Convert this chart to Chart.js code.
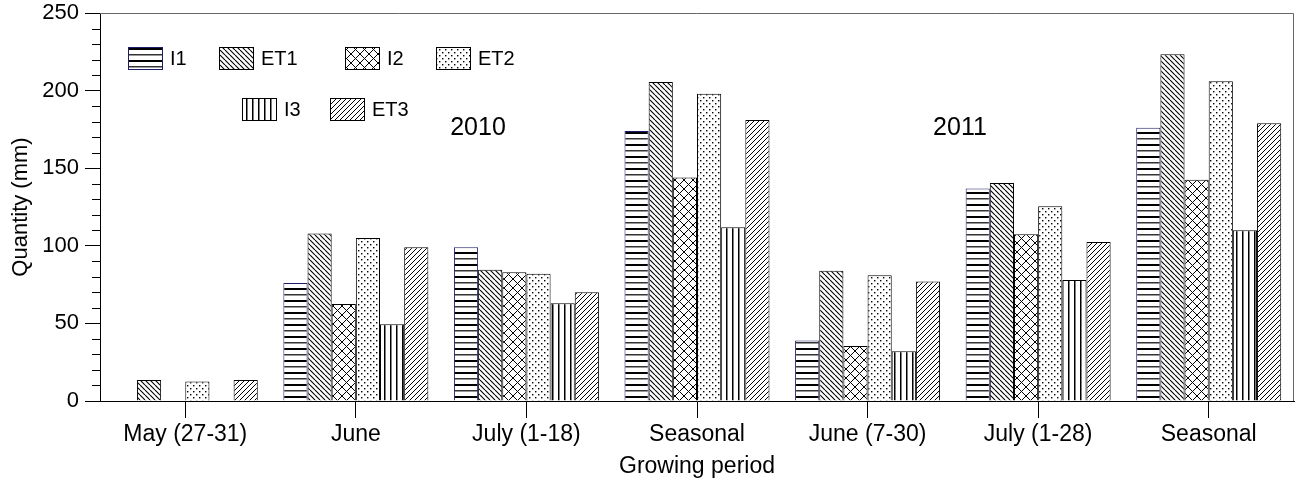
<!DOCTYPE html>
<html>
<head>
<meta charset="utf-8">
<script src="https://cdn.jsdelivr.net/npm/chart.js@4.4.1/dist/chart.umd.min.js"></script>
<style>
  html, body { margin: 0; padding: 0; background: #fff; }
  #wrap { width: 1295px; height: 482px; position: relative; }
</style>
</head>
<body>
<div id="wrap"><canvas id="chart1"></canvas></div>
<script>
const periods = ['May (27-31)', 'June', 'July (1-18)', 'Seasonal', 'June (7-30)', 'July (1-28)', 'Seasonal'];
const seriesNames = ['I1', 'ET1', 'I2', 'ET2', 'I3', 'ET3'];
const i1 = [0.4, 76, 99, 174, 39, 137, 176];
const et1 = [13.5, 108, 84.5, 205.5, 84, 140.5, 223.5];
const i2 = [0, 62.5, 83, 144, 35.5, 107.5, 142.5];
const et2 = [12.5, 105, 82, 198, 81, 125.5, 206];
const i3 = [0, 49.5, 63, 112, 32, 78, 110];
const et3 = [13.5, 99, 70, 181, 77, 102.5, 179];
const yearLabels = ['2010', '2011'];
const yTicks = [0, 50, 100, 150, 200, 250];

const FONT = "'Liberation Sans', Arial, sans-serif";

// small tiles used as bar fills
function makeTile(w, h, draw) {
  const c = document.createElement('canvas');
  c.width = w; c.height = h;
  const g = c.getContext('2d');
  g.fillStyle = '#fff';
  g.fillRect(0, 0, w, h);
  g.strokeStyle = '#000';
  g.fillStyle = '#000';
  draw(g);
  return g.createPattern(c, 'repeat');
}

const fills = [
  // I1 horizontal lines
  makeTile(8, 12, g => {
    g.fillRect(0, 0, 8, 2);
    g.fillStyle = '#333';
    g.fillRect(0, 6, 8, 1.5);
  }),
  // ET1 back slash lines
  makeTile(5, 5, g => {
    g.lineWidth = 1.1;
    g.beginPath();
    for (let k = -1; k <= 1; k++) {
      g.moveTo(k * 5, 0);
      g.lineTo(k * 5 + 5, 5);
    }
    g.stroke();
  }),
  // I2 cross hatch
  makeTile(9, 9, g => {
    g.lineWidth = 1;
    g.beginPath();
    g.moveTo(0, 0); g.lineTo(9, 9);
    g.moveTo(9, 0); g.lineTo(0, 9);
    g.stroke();
  }),
  // ET2 dots
  makeTile(6, 6, g => {
    g.fillRect(1, 1, 1.4, 1.4);
    g.fillRect(4, 4, 1.4, 1.4);
  }),
  // I3 vertical lines
  makeTile(6, 8, g => {
    g.fillRect(0, 0, 1.5, 8);
  }),
  // ET3 forward slash lines
  makeTile(5, 5, g => {
    g.lineWidth = 1;
    g.beginPath();
    for (let k = -1; k <= 1; k++) {
      g.moveTo(k * 5, 5);
      g.lineTo(k * 5 + 5, 0);
    }
    g.stroke();
  })
];
const borders = ['#1c1c6a', '#000', '#000', '#000', '#000', '#000'];
const values = [i1, et1, i2, et2, i3, et3];

// legend slots inside the plot, two rows
const legendSpots = [
  [128, 47], [219, 47], [345, 47], [436, 47],
  [242, 98], [330, 98]
];

const extrasPlugin = {
  id: 'extras',
  afterDraw(chart) {
    const ctx = chart.ctx;
    const a = chart.chartArea;
    const y = chart.scales.y;
    ctx.save();
    // frame top and right
    ctx.strokeStyle = '#666';
    ctx.lineWidth = 1;
    ctx.beginPath();
    ctx.moveTo(a.left, a.top + 0.5);
    ctx.lineTo(a.right - 0.5, a.top + 0.5);
    ctx.lineTo(a.right - 0.5, a.bottom);
    ctx.stroke();
    // minor y ticks
    ctx.strokeStyle = '#000';
    ctx.beginPath();
    for (let v = 10; v < 250; v += 10) {
      if (v % 50 === 0) continue;
      const py = Math.round(y.getPixelForValue(v)) + 0.5;
      ctx.moveTo(a.left - 8, py);
      ctx.lineTo(a.left, py);
    }
    ctx.stroke();
    // legend
    ctx.font = '20px ' + FONT;
    ctx.textBaseline = 'middle';
    seriesNames.forEach((name, i) => {
      const [lx, ly] = legendSpots[i];
      ctx.fillStyle = fills[i];
      ctx.fillRect(lx, ly, 34, 22);
      ctx.strokeStyle = borders[i];
      ctx.strokeRect(lx + 0.5, ly + 0.5, 34, 22);
      ctx.fillStyle = '#000';
      ctx.fillText(name, lx + 42, ly + 12);
    });
    // year labels
    ctx.font = '25px ' + FONT;
    ctx.textAlign = 'center';
    ctx.fillText(yearLabels[0], 478, 128);
    ctx.fillText(yearLabels[1], 960, 128);
    ctx.restore();
  }
};

const ctx = document.getElementById('chart1').getContext('2d');
const chart1 = new Chart(ctx, {
  type: 'bar',
  data: {
    labels: periods,
    datasets: seriesNames.map((name, i) => ({
      label: name,
      data: values[i],
      backgroundColor: fills[i],
      borderColor: borders[i],
      borderWidth: 1,
      categoryPercentage: 0.85,
      barPercentage: 1.0
    }))
  },
  options: {
    responsive: true,
    maintainAspectRatio: false,
    animation: false,
    layout: { padding: { top: 13, right: 1, left: 0, bottom: 0 } },
    plugins: {
      legend: { display: false },
      tooltip: { enabled: false }
    },
    scales: {
      x: {
        grid: { display: true, drawOnChartArea: false, offset: false, tickLength: 17, color: '#000' },
        border: { display: true, color: '#000', width: 1 },
        ticks: { color: '#000', font: { family: FONT, size: 23 }, padding: 3, maxRotation: 0, autoSkip: false },
        title: { display: true, text: 'Growing period', color: '#000', font: { family: FONT, size: 23 }, padding: { top: 0, bottom: 2 } },
        afterFit(s) { s.height = 81; s.paddingLeft = 0; s.paddingRight = 0; }
      },
      y: {
        min: 0,
        max: 250,
        afterBuildTicks(s) { s.ticks = yTicks.map(v => ({ value: v })); },
        grid: { display: true, drawOnChartArea: false, tickLength: 15, color: '#000' },
        border: { display: true, color: '#000', width: 1 },
        ticks: { color: '#000', font: { family: FONT, size: 22 }, padding: 6 },
        title: { display: true, text: 'Quantity (mm)', color: '#000', font: { family: FONT, size: 22 }, padding: { top: 8, bottom: 0 } },
        afterFit(s) { s.width = 100; s.paddingTop = 0; s.paddingBottom = 0; }
      }
    }
  },
  plugins: [extrasPlugin]
});
</script>
</body>
</html>
